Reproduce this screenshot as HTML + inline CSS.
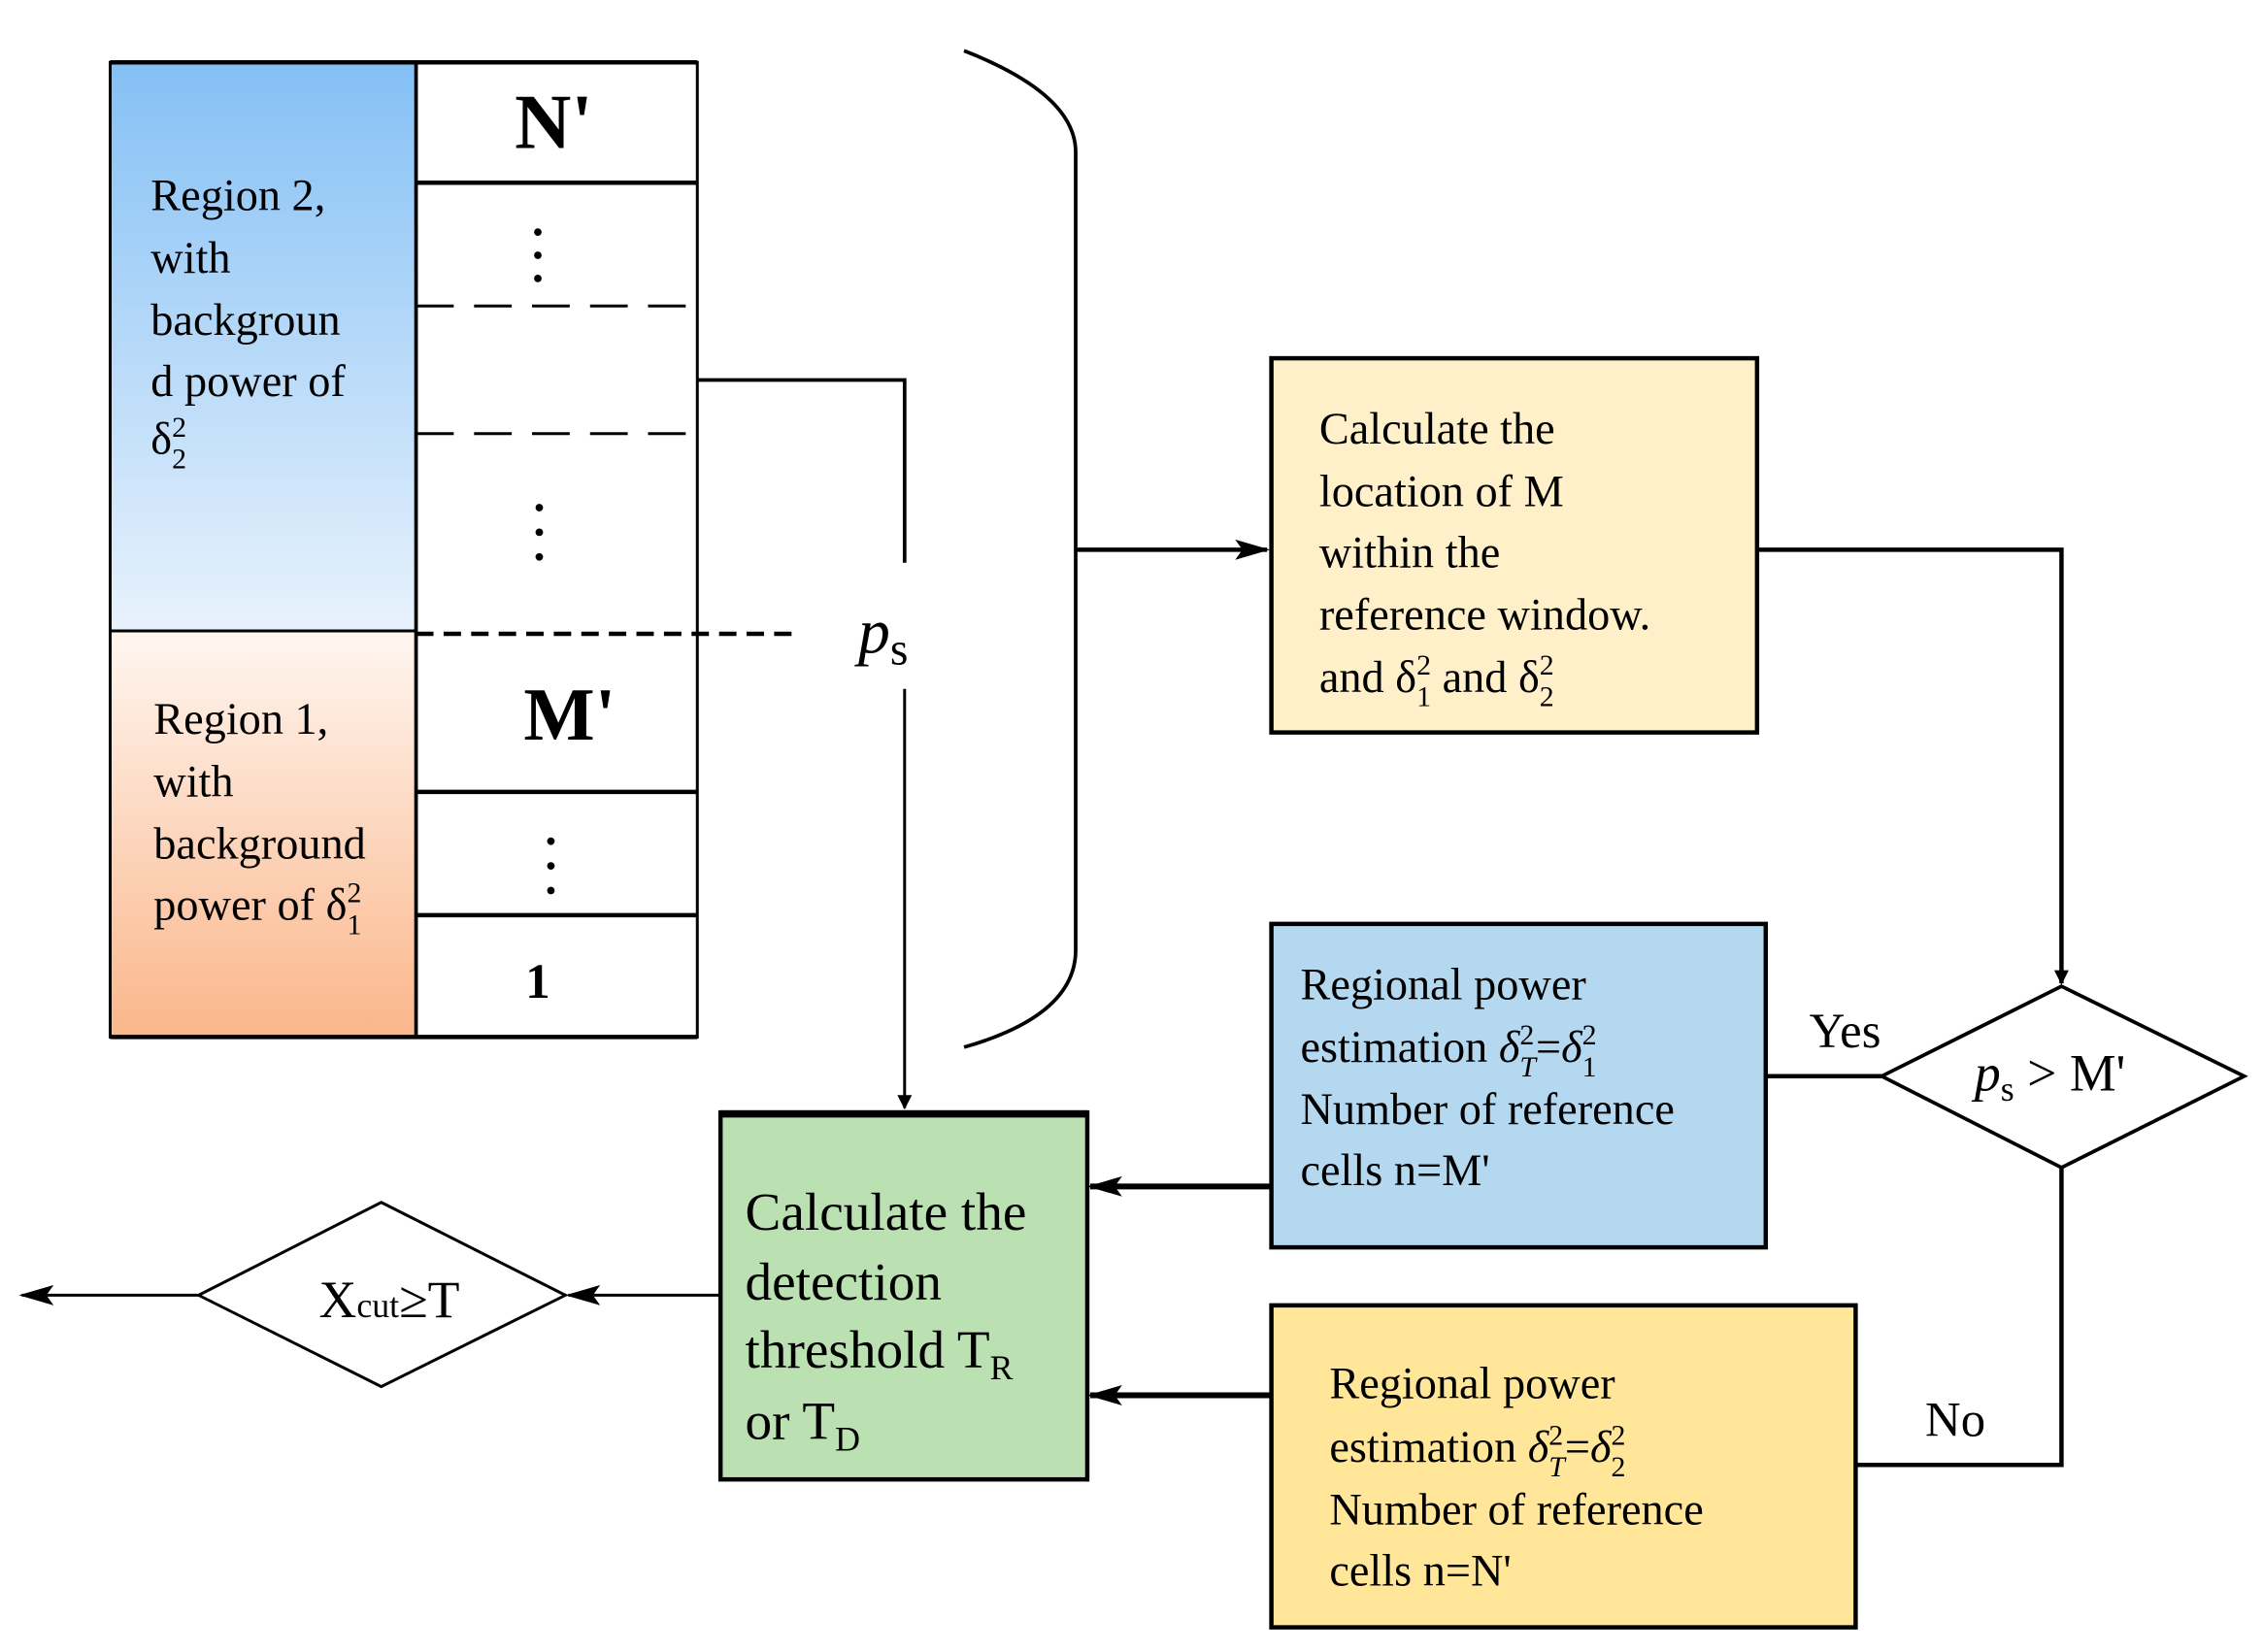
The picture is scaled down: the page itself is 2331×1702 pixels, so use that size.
<!DOCTYPE html>
<html><head><meta charset="utf-8"><style>
html,body{margin:0;padding:0;background:#fff}
svg{display:block}
svg text{font-family:'Liberation Serif','DejaVu Serif',serif;fill:#000}
</style></head><body>
<svg width="2331" height="1702" viewBox="0 0 1561 1139" preserveAspectRatio="none" xmlns="http://www.w3.org/2000/svg" font-family="'Liberation Serif', serif">
<defs>
<linearGradient id="gb" x1="0" y1="0" x2="0" y2="1"><stop offset="0" stop-color="#84C0F5"/><stop offset="1" stop-color="#E8F2FC"/></linearGradient>
<linearGradient id="go" x1="0" y1="0" x2="0" y2="1"><stop offset="0" stop-color="#FFF6F0"/><stop offset="1" stop-color="#FAB68A"/></linearGradient>
<marker id="ar" markerWidth="10" markerHeight="10" refX="9" refY="5" orient="auto" markerUnits="userSpaceOnUse"><path d="M0,0 L10,5 L0,10 Z" fill="#000"/></marker>
<marker id="arb" markerWidth="24" markerHeight="14" refX="22" refY="7" orient="auto" markerUnits="userSpaceOnUse"><path d="M0,0 L24,7 L0,14 L5,7 Z" fill="#000"/></marker>
</defs>
<rect x="76" y="43" width="211" height="392" fill="url(#gb)"/>
<rect x="76" y="435" width="211" height="280" fill="url(#go)"/>
<rect x="76" y="43" width="405" height="672" fill="none" stroke="#000" stroke-width="2"/>
<line x1="76" y1="43" x2="481" y2="43" stroke="#000" stroke-width="3"/>
<line x1="287" y1="43" x2="287" y2="715" stroke="#000" stroke-width="2.5"/>
<line x1="76" y1="435" x2="287" y2="435" stroke="#000" stroke-width="2"/>
<line x1="287" y1="126" x2="481" y2="126" stroke="#000" stroke-width="3"/>
<line x1="287" y1="211" x2="481" y2="211" stroke="#000" stroke-width="2" stroke-dasharray="26,14"/>
<line x1="287" y1="299" x2="481" y2="299" stroke="#000" stroke-width="2" stroke-dasharray="26,14"/>
<line x1="287" y1="437" x2="550" y2="437" stroke="#000" stroke-width="3" stroke-dasharray="12,7"/>
<line x1="287" y1="546" x2="481" y2="546" stroke="#000" stroke-width="3"/>
<line x1="287" y1="631" x2="481" y2="631" stroke="#000" stroke-width="3"/>
<line x1="76" y1="715" x2="481" y2="715" stroke="#000" stroke-width="3"/>
<g fill="#000">
<circle cx="371" cy="160" r="2.6"/><circle cx="371" cy="176" r="2.6"/><circle cx="371" cy="192" r="2.6"/>
<circle cx="372" cy="350" r="2.6"/><circle cx="372" cy="367" r="2.6"/><circle cx="372" cy="384" r="2.6"/>
<circle cx="380" cy="580" r="2.6"/><circle cx="380" cy="597" r="2.6"/><circle cx="380" cy="614" r="2.6"/>
</g>
<text x="382" y="102" font-size="54" font-weight="bold" text-anchor="middle">N'</text>
<text x="393" y="510" font-size="52" font-weight="bold" text-anchor="middle">M'</text>
<text x="371" y="688" font-size="34" font-weight="bold" text-anchor="middle">1</text>
<g font-size="31">
<text x="104" y="145">Region 2,</text>
<text x="104" y="188">with</text>
<text x="104" y="231">backgroun</text>
<text x="104" y="273">d power of</text>
<text x="104" y="313">δ<tspan font-size="20" dy="-12">2</tspan><tspan font-size="20" dx="-10" dy="22">2</tspan></text>
<text x="106" y="506">Region 1,</text>
<text x="106" y="549">with</text>
<text x="106" y="592">background</text>
<text x="106" y="634">power of δ<tspan font-size="20" dy="-12">2</tspan><tspan font-size="20" dx="-10" dy="22">1</tspan></text>
</g>
<polyline points="481,262 624,262 624,388" fill="none" stroke="#000" stroke-width="2.5"/>
<text x="592" y="450" font-size="44" font-style="italic">p<tspan font-style="normal" font-size="32" dy="8">s</tspan></text>
<line x1="624" y1="475" x2="624" y2="764" stroke="#000" stroke-width="2" marker-end="url(#ar)"/>
<path d="M665,35 Q742,65 742,105 L742,655 Q742,700 665,722" fill="none" stroke="#000" stroke-width="2.5"/>
<line x1="742" y1="379" x2="874" y2="379" stroke="#000" stroke-width="3" marker-end="url(#arb)"/>
<rect x="877" y="247" width="335" height="258" fill="#FFF0C9" stroke="#000" stroke-width="3"/>
<g font-size="31">
<text x="910" y="306">Calculate the</text>
<text x="910" y="349">location of M</text>
<text x="910" y="391">within the</text>
<text x="910" y="434">reference window.</text>
<text x="910" y="477">and δ<tspan font-size="20" dy="-12">2</tspan><tspan font-size="20" dx="-10" dy="22">1</tspan><tspan dy="-10"> and δ</tspan><tspan font-size="20" dy="-12">2</tspan><tspan font-size="20" dx="-10" dy="22">2</tspan></text>
</g>
<polyline points="1212,379 1422,379 1422,678" fill="none" stroke="#000" stroke-width="3" marker-end="url(#ar)"/>
<polygon points="1422,680 1548,742 1422,805 1298,742" fill="#fff" stroke="#000" stroke-width="2.5"/>
<text x="1362" y="752" font-size="36" font-style="italic">p<tspan font-style="normal" font-size="24" dy="7">s</tspan><tspan font-style="normal" dy="-7"> &gt; M'</tspan></text>
<line x1="1218" y1="742" x2="1298" y2="742" stroke="#000" stroke-width="3"/>
<text x="1248" y="722" font-size="34">Yes</text>
<polyline points="1422,805 1422,1010 1280,1010" fill="none" stroke="#000" stroke-width="3"/>
<text x="1328" y="990" font-size="34">No</text>
<rect x="877" y="637" width="341" height="223" fill="#B4D8F0" stroke="#000" stroke-width="3"/>
<g font-size="31">
<text x="897" y="689">Regional power</text>
<text x="897" y="732">estimation <tspan font-style="italic">δ</tspan><tspan font-size="20" dy="-12">2</tspan><tspan font-size="20" font-style="italic" dx="-10" dy="22">T</tspan><tspan dy="-10">=</tspan><tspan font-style="italic">δ</tspan><tspan font-size="20" dy="-12">2</tspan><tspan font-size="20" dx="-10" dy="22">1</tspan></text>
<text x="897" y="775">Number of reference</text>
<text x="897" y="817">cells n=M'</text>
</g>
<line x1="877" y1="818" x2="752" y2="818" stroke="#000" stroke-width="4" marker-end="url(#arb)"/>
<rect x="877" y="900" width="403" height="222" fill="#FFE699" stroke="#000" stroke-width="3"/>
<g font-size="31">
<text x="917" y="964">Regional power</text>
<text x="917" y="1008">estimation <tspan font-style="italic">δ</tspan><tspan font-size="20" dy="-12">2</tspan><tspan font-size="20" font-style="italic" dx="-10" dy="22">T</tspan><tspan dy="-10">=</tspan><tspan font-style="italic">δ</tspan><tspan font-size="20" dy="-12">2</tspan><tspan font-size="20" dx="-10" dy="22">2</tspan></text>
<text x="917" y="1051">Number of reference</text>
<text x="917" y="1093">cells n=N'</text>
</g>
<line x1="877" y1="962" x2="752" y2="962" stroke="#000" stroke-width="4" marker-end="url(#arb)"/>
<rect x="497" y="767" width="253" height="253" fill="#BBE0B2" stroke="#000" stroke-width="3"/>
<line x1="497" y1="768" x2="750" y2="768" stroke="#000" stroke-width="5"/>
<g font-size="37">
<text x="514" y="848">Calculate the</text>
<text x="514" y="896">detection</text>
<text x="514" y="943">threshold T<tspan font-size="24" dy="8">R</tspan></text>
<text x="514" y="992">or T<tspan font-size="24" dy="8">D</tspan></text>
</g>
<line x1="497" y1="893" x2="392" y2="893" stroke="#000" stroke-width="2" marker-end="url(#arb)"/>
<polygon points="263,829 390,893 263,956 137,893" fill="#fff" stroke="#000" stroke-width="2"/>
<text x="220" y="908" font-size="36">X<tspan font-size="24">cut</tspan>≥T</text>
<line x1="137" y1="893" x2="15" y2="893" stroke="#000" stroke-width="2" marker-end="url(#arb)"/>
</svg>
</body></html>
